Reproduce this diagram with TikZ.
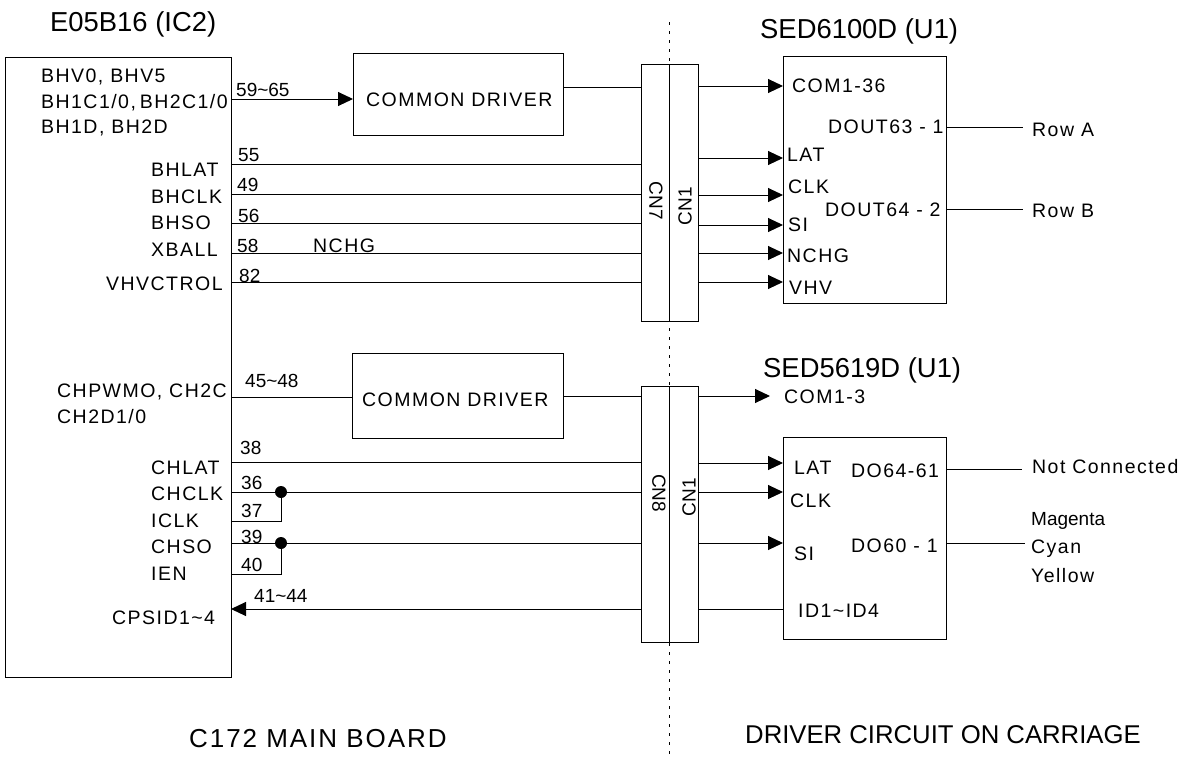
\documentclass[tikz,border=0pt]{standalone}
\usepackage{fontspec}
\usetikzlibrary{arrows.meta}
\setmainfont{Liberation Sans}
\newfontfamily\widefont[LetterSpace=7.5]{Liberation Sans}
\tikzset{
  box/.style={draw, line width=1pt, inner sep=0pt, outer sep=0pt},
  wire/.style={line width=1pt},
  sig/.style={wire, -{Triangle[length=15pt,width=14pt]}},
  junc/.style={circle, fill, inner sep=0pt, minimum size=12pt},
  pinlab/.style={anchor=base west, inner sep=0pt, font=\widefont\fontsize{19.5}{21}\selectfont},
  numlab/.style={anchor=base west, inner sep=0pt, font=\fontsize{19}{21}\selectfont},
  titlelab/.style={anchor=base west, inner sep=0pt, font=\fontsize{27.4}{29}\selectfont},
  carlab/.style={anchor=base west, inner sep=0pt, font=\fontsize{25.7}{28}\selectfont},
  boardlab/.style={anchor=base west, inner sep=0pt, font=\widefont\fontsize{26}{28}\selectfont},
  cnlab/.style={inner sep=0pt, font=\fontsize{19}{21}\selectfont}
}
\begin{document}
\begin{tikzpicture}[x=1pt, y=-1pt]
  \useasboundingbox (0,0) rectangle (1189,758);

  % Board boundary
  \coordinate (divtop) at (669,22);
  \coordinate (divbot) at (669,754);
  \draw[wire, dash pattern=on 3pt off 6pt] (divtop) -- (divbot);

  % Boxes
  \node[box, minimum width=226pt, minimum height=620pt] (ic) at (118,367.5) {};
  \node[box, minimum width=210pt, minimum height=82pt] (drva) at (458,94) {};
  \node[box, minimum width=211pt, minimum height=85pt] (drvb) at (457.5,395.5) {};
  \node[box, minimum width=28pt, minimum height=257pt] (cnsa) at (655,192.5) {};
  \node[box, minimum width=29pt, minimum height=257pt] (cnsb) at (683.5,192.5) {};
  \node[box, minimum width=28pt, minimum height=256pt] (cnta) at (655,514) {};
  \node[box, minimum width=29pt, minimum height=256pt] (cntb) at (683.5,514) {};
  \node[box, minimum width=163pt, minimum height=247pt] (usa) at (864.5,179.5) {};
  \node[box, minimum width=163pt, minimum height=202pt] (usb) at (864.5,538) {};

  % Titles
  \node[titlelab] (ttic) at (50,31) {E05B16 (IC2)};
  \node[titlelab] (ttsa) at (760,38) {SED6100D (U1)};
  \node[titlelab] (ttsb) at (763,377) {SED5619D (U1)};
  \node[boardlab] (ttmain) at (189,747) {C172 MAIN BOARD};
  \node[carlab] (ttcar) at (745,743) {DRIVER CIRCUIT ON CARRIAGE};

  \node[pinlab] (lbdra) at (366,106) {COMMON DRIVER};
  \node[pinlab] (lbdrb) at (362,406) {COMMON DRIVER};
  \node[cnlab, rotate=-90] (lbcn7) at (656,201) {CN7};
  \node[cnlab, rotate=90] (lbcna) at (685,206) {CN1};
  \node[cnlab, rotate=-90] (lbcn8) at (659,493) {CN8};
  \node[cnlab, rotate=90] (lbcnb) at (689,497) {CN1};

  % Upper IC pins
  \node[pinlab] (pa) at (41,82) {BHV0, BHV5};
  \node[pinlab] (pb) at (41,108) {BH1C1/0,\kern-3pt\ BH2C1/0};
  \node[pinlab] (pc) at (41,133) {BH1D, BH2D};
  \node[pinlab] (pd) at (151,176) {BHLAT};
  \node[pinlab] (pe) at (151,203) {BHCLK};
  \node[pinlab] (pf) at (151,229) {BHSO};
  \node[pinlab] (pg) at (151,256) {XBALL};
  \node[pinlab] (ph) at (106,290) {VHVCTROL};
  \node[pinlab] (pnchg) at (313,252) {NCHG};

  \node[numlab] (na) at (236,96) {59\textasciitilde65};
  \node[numlab] (nb) at (238,161) {55};
  \node[numlab] (nc) at (237,191) {49};
  \node[numlab] (nd) at (238,222) {56};
  \node[numlab] (ne) at (237,252) {58};
  \node[numlab] (nf) at (239,282) {82};

  % Lower IC pins
  \node[pinlab] (qa) at (57,397) {CHPWMO, CH2C};
  \node[pinlab] (qb) at (57,423) {CH2D1/0};
  \node[pinlab] (qc) at (151,474) {CHLAT};
  \node[pinlab] (qd) at (151,500) {CHCLK};
  \node[pinlab] (qe) at (151,527) {ICLK};
  \node[pinlab] (qf) at (151,553) {CHSO};
  \node[pinlab] (qg) at (151,580) {IEN};
  \node[pinlab] (qh) at (112,624) {CPSID1\textasciitilde4};

  \node[numlab] (ma) at (245,387) {45\textasciitilde48};
  \node[numlab] (mb) at (240,454) {38};
  \node[numlab] (mc) at (241,489) {36};
  \node[numlab] (md) at (241,517) {37};
  \node[numlab] (me) at (241,543) {39};
  \node[numlab] (mf) at (241,571) {40};
  \node[numlab] (mg) at (254,602) {41\textasciitilde44};

  % SED6100D pins
  \node[pinlab] (ua) at (792,92) {COM1-36};
  \node[pinlab] (ub) at (828,133) {DOUT63 - 1};
  \node[pinlab] (uc) at (787,161) {LAT};
  \node[pinlab] (ud) at (788,193) {CLK};
  \node[pinlab] (ue) at (825,216) {DOUT64 - 2};
  \node[pinlab] (uf) at (788,231) {SI};
  \node[pinlab] (ug) at (787,262) {NCHG};
  \node[pinlab] (uh) at (789,294) {VHV};

  % SED5619D pins
  \node[pinlab] (va) at (784,403) {COM1-3};
  \node[pinlab] (vb) at (794,474) {LAT};
  \node[pinlab] (vc) at (851,477) {DO64-61};
  \node[pinlab] (vd) at (790,507) {CLK};
  \node[pinlab] (ve) at (851,552) {DO60 - 1};
  \node[pinlab] (vf) at (794,560) {SI};
  \node[pinlab] (vg) at (798,617) {ID1\textasciitilde ID4};

  % Outputs
  \node[pinlab] (rowa) at (1032,136) {Row A};
  \node[pinlab] (rowb) at (1032,217) {Row B};
  \node[pinlab] (nocon) at (1032,473) {Not Connected};
  \node[numlab] (mag) at (1031,525) {Magenta};
  \node[pinlab] (cya) at (1031,553) {Cyan};
  \node[pinlab] (yel) at (1031,582) {Yellow};

  % Upper wires
  \draw[sig] (ic.east |- 0,99) -- (drva.west |- 0,99);
  \draw[wire] (drva.east |- 0,87) -- (cnsa.west |- 0,87);
  \draw[wire] (ic.east |- 0,164) -- (cnsa.west |- 0,164);
  \draw[wire] (ic.east |- 0,194) -- (cnsa.west |- 0,194);
  \draw[wire] (ic.east |- 0,223) -- (cnsa.west |- 0,223);
  \draw[wire] (ic.east |- 0,253) -- (cnsa.west |- 0,253);
  \draw[wire] (ic.east |- 0,282) -- (cnsa.west |- 0,282);

  \draw[sig] (cnsb.east |- 0,86) -- (usa.west |- 0,86);
  \draw[sig] (cnsb.east |- 0,158) -- (usa.west |- 0,158);
  \draw[sig] (cnsb.east |- 0,195) -- (usa.west |- 0,195);
  \draw[sig] (cnsb.east |- 0,225) -- (usa.west |- 0,225);
  \draw[sig] (cnsb.east |- 0,253) -- (usa.west |- 0,253);
  \draw[sig] (cnsb.east |- 0,282) -- (usa.west |- 0,282);

  \draw[wire] (usa.east |- 0,127) -- (1023,127);
  \draw[wire] (usa.east |- 0,209) -- (1023,209);

  % Lower wires
  \node[junc] (jclk) at (281,492) {};
  \node[junc] (jso) at (281,543) {};
  \draw[wire] (ic.east |- 0,397) -- (drvb.west |- 0,397);
  \draw[wire] (drvb.east |- 0,396) -- (cnta.west |- 0,396);
  \draw[wire] (ic.east |- 0,462) -- (cnta.west |- 0,462);
  \draw[wire] (ic.east |- jclk) -- (jclk) -- (cnta.west |- jclk);
  \draw[wire] (ic.east |- 0,521) -| (jclk);
  \draw[wire] (ic.east |- jso) -- (jso) -- (cnta.west |- jso);
  \draw[wire] (ic.east |- 0,574) -| (jso);
  \draw[sig] (cnta.west |- 0,609) -- (ic.east |- 0,609);

  \draw[sig] (cntb.east |- 0,396) -- (770,396);
  \draw[sig] (cntb.east |- 0,463) -- (usb.west |- 0,463);
  \draw[sig] (cntb.east |- 0,492) -- (usb.west |- 0,492);
  \draw[sig] (cntb.east |- 0,543) -- (usb.west |- 0,543);
  \draw[wire] (cntb.east |- 0,609) -- (usb.west |- 0,609);

  \draw[wire] (usb.east |- 0,469) -- (1022,469);
  \draw[wire] (usb.east |- 0,543) -- (1025,543);
\end{tikzpicture}
\end{document}
